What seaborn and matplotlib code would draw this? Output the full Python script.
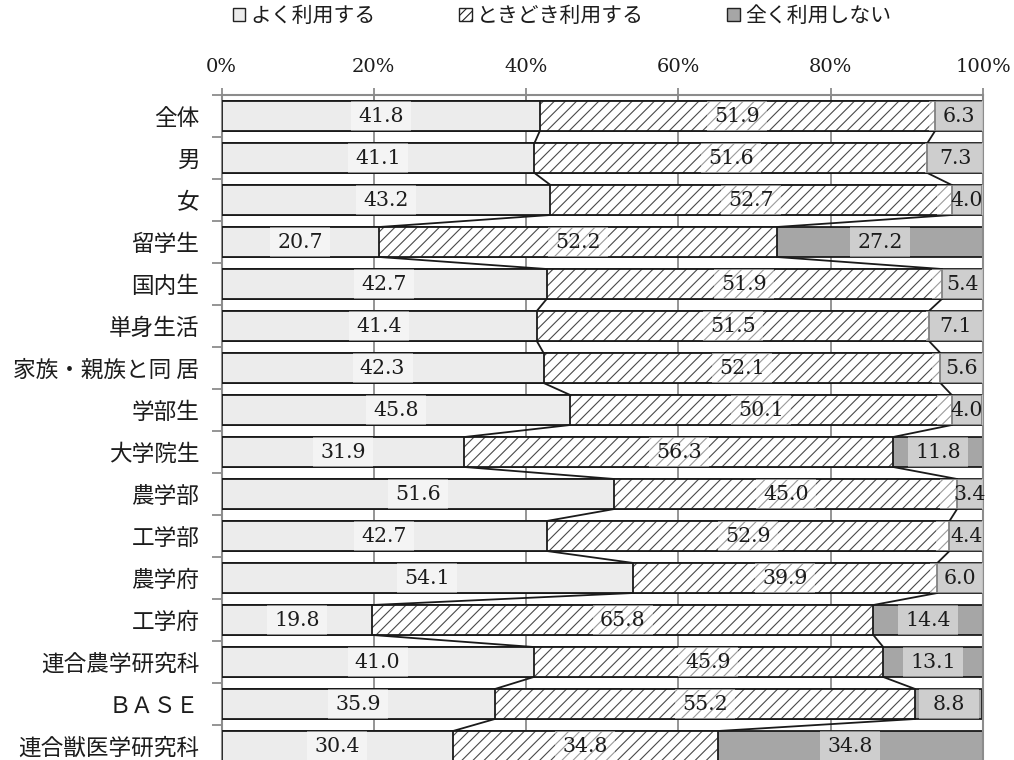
import numpy as np
import pandas as pd
import matplotlib
matplotlib.use("Agg")
import matplotlib.pyplot as plt
from matplotlib.patches import Patch
import seaborn as sns

# ---- data -------------------------------------------------------------
categories = [
    "全体", "男", "女", "留学生", "国内生", "単身生活", "家族・親族と同 居",
    "学部生", "大学院生", "農学部", "工学部", "農学府", "工学府",
    "連合農学研究科", "ＢＡＳＥ", "連合獣医学研究科",
]
often = [41.8, 41.1, 43.2, 20.7, 42.7, 41.4, 42.3, 45.8, 31.9, 51.6, 42.7,
         54.1, 19.8, 41.0, 35.9, 30.4]
sometimes = [51.9, 51.6, 52.7, 52.2, 51.9, 51.5, 52.1, 50.1, 56.3, 45.0, 52.9,
             39.9, 65.8, 45.9, 55.2, 34.8]
never = [6.3, 7.3, 4.0, 27.2, 5.4, 7.1, 5.6, 4.0, 11.8, 3.4, 4.4, 6.0, 14.4,
         13.1, 8.8, 34.8]
series_names = ["よく利用する", "ときどき利用する", "全く利用しない"]
x_ticks = [0, 20, 40, 60, 80, 100]

# ---- style ------------------------------------------------------------
sns.set_theme(style="white")
plt.rcParams["font.family"] = ["DejaVu Serif", "Noto Sans CJK JP", "DejaVu Sans"]
plt.rcParams["hatch.linewidth"] = 0.8
NUM_FONT = ["DejaVu Serif"]
CJK_FONT = ["Noto Sans CJK JP", "DejaVu Sans"]

C_OFTEN = "#ececec"
C_NEVER = "#a6a6a6"
C_HATCH = "#4a4a4a"
C_EDGE = "#1a1a1a"
C_AXIS = "#8c8c8c"
C_TEXT = "#1c1c1c"
BAR_H = 0.714
EDGE_LW = 1.3

df = pd.DataFrame({"cat": categories, "often": often,
                   "sometimes": sometimes, "never": never})
df["c1"] = df["often"]
df["c2"] = df["often"] + df["sometimes"]
df["c3"] = df["c2"] + df["never"]

fig = plt.figure(figsize=(10.14, 7.6), dpi=100)
ax = fig.add_axes([221.5 / 1014, 1 - 767 / 760, (983 - 221.5) / 1014, 672 / 760])

# stacked layers drawn back to front as cumulative totals
sns.barplot(data=df, x="c3", y="cat", order=categories, orient="h",
            color=C_NEVER, saturation=1, width=BAR_H, edgecolor=C_EDGE,
            linewidth=EDGE_LW, ax=ax, zorder=2)
sns.barplot(data=df, x="c2", y="cat", order=categories, orient="h",
            facecolor="white", saturation=1, width=BAR_H, edgecolor=C_HATCH,
            linewidth=0, hatch="///", ax=ax, zorder=3)
ypos = np.arange(len(categories))
ax.barh(ypos, df["c2"], height=BAR_H, fill=False, edgecolor=C_EDGE,
        linewidth=EDGE_LW, zorder=4)
sns.barplot(data=df, x="c1", y="cat", order=categories, orient="h",
            color=C_OFTEN, saturation=1, width=BAR_H, edgecolor=C_EDGE,
            linewidth=EDGE_LW, ax=ax, zorder=5)

# series lines joining segment boundaries of neighbouring bars
for col in ["c1", "c2"]:
    vals = df[col].to_numpy()
    for i in range(len(vals) - 1):
        ax.plot([vals[i], vals[i + 1]],
                [i + BAR_H / 2, i + 1 - BAR_H / 2],
                color=C_EDGE, lw=1.3, zorder=6, solid_capstyle="butt")

# value labels on light translucent boxes
box_w = 60 / ((983 - 221.5) / 100)
seg_starts = [np.zeros(len(df)), df["c1"].to_numpy(), df["c2"].to_numpy()]
seg_vals = [df["often"].to_numpy(), df["sometimes"].to_numpy(), df["never"].to_numpy()]
for starts, vals in zip(seg_starts, seg_vals):
    centers = starts + vals / 2
    ax.barh(ypos, box_w, left=centers - box_w / 2, height=BAR_H,
            color="white", alpha=0.45, linewidth=0, zorder=7)
    for y, cx, v in zip(ypos, centers, vals):
        ax.text(cx, y, f"{v:.1f}", ha="center", va="center", family=NUM_FONT,
                fontsize=14.8, color=C_TEXT, zorder=8)

# axes: percent scale on top, category labels at left
ax.set_xlim(0, 100)
ax.set_ylim(len(categories) - 0.5, -0.5)
ax.xaxis.tick_top()
ax.set_xticks(x_ticks)
ax.set_xticklabels([f"{t}%" for t in x_ticks], fontsize=14, color=C_TEXT,
                   family=NUM_FONT)
ax.tick_params(axis="x", which="major", direction="inout", length=10,
               width=1.3, color=C_AXIS, pad=9, top=True, bottom=False)
ax.set_yticks(ypos)
ax.set_yticklabels(categories, fontsize=16.3, color=C_TEXT, family=CJK_FONT)
ax.set_yticks(np.arange(len(categories) + 1) - 0.5, minor=True)
ax.tick_params(axis="y", which="major", length=0, pad=16)
ax.tick_params(axis="y", which="minor", direction="out", length=7,
               width=1.3, color=C_AXIS, left=True)
ax.set_xlabel("")
ax.set_ylabel("")
ax.set_axisbelow(True)
ax.xaxis.grid(True, color=C_AXIS, linewidth=1.3)
ax.yaxis.grid(False)
for side in ["left", "top", "right"]:
    ax.spines[side].set_visible(True)
    ax.spines[side].set_color(C_AXIS)
    ax.spines[side].set_linewidth(1.5)
ax.spines["bottom"].set_visible(False)

# legend across the top
handles = [
    Patch(facecolor=C_OFTEN, edgecolor="#222222", linewidth=1.0),
    Patch(facecolor="white", edgecolor="#222222", hatch="////", linewidth=1.0),
    Patch(facecolor=C_NEVER, edgecolor="#222222", linewidth=1.0),
]
fig.legend(handles, series_names, loc="center", bbox_to_anchor=(562 / 1014, 1 - 16 / 760),
           ncol=3, frameon=False, handlelength=0.6, handleheight=0.6,
           handletextpad=0.25, columnspacing=4.0, labelcolor=C_TEXT,
           prop={"family": CJK_FONT, "size": 15})

fig.savefig("out.png", dpi=100)
